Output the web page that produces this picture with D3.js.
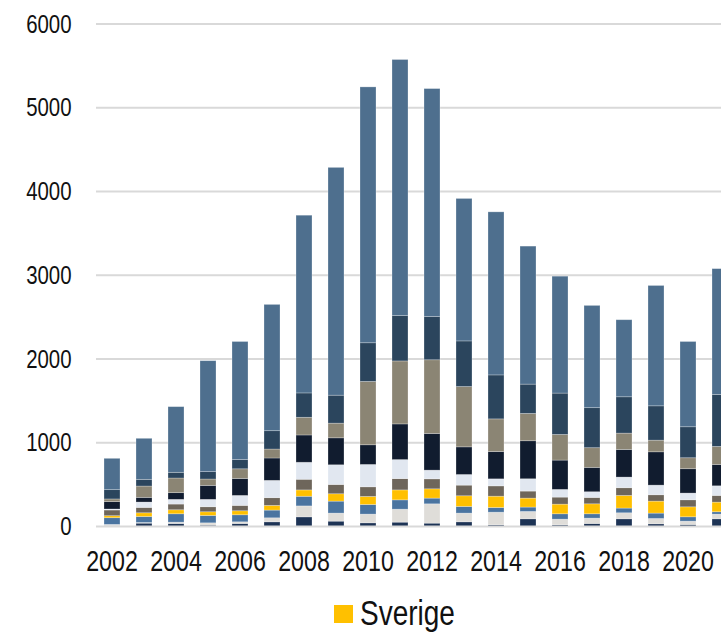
<!DOCTYPE html>
<html>
<head>
<meta charset="utf-8">
<script src="https://cdn.jsdelivr.net/npm/d3@7/dist/d3.min.js"></script>
<style>
  html, body { margin: 0; padding: 0; background: #fff; overflow: hidden; }
  svg text { font-family: "Liberation Sans", Arial, sans-serif; fill: #111; }
</style>
</head>
<body>
<svg id="chart" width="721" height="642"></svg>
<script>
// ---- Data ----
const years = [2002,2003,2004,2005,2006,2007,2008,2009,2010,2011,2012,2013,2014,2015,2016,2017,2018,2019,2020,2021];
const seriesNames = ["Serie 1","Serie 2","Serie 3","Sverige","Serie 5","Serie 6","Serie 7","Serie 8","Serie 9","Serie 10"];
const serie1  = [10, 40, 36, 16, 36, 56, 115, 64, 44, 52, 40, 56, 20, 92, 20, 36, 92, 32, 24, 92];
const serie2  = [15, 8, 16, 28, 20, 48, 131, 96, 104, 155, 231, 104, 151, 88, 68, 64, 72, 64, 40, 56];
const serie3  = [80, 72, 100, 88, 84, 92, 115, 143, 115, 111, 68, 80, 56, 52, 64, 52, 56, 64, 52, 28];
const sverige = [24, 44, 48, 44, 48, 56, 76, 88, 96, 119, 111, 127, 135, 107, 115, 119, 151, 143, 119, 115];
const serie5  = [68, 64, 68, 60, 64, 92, 127, 111, 115, 135, 119, 127, 123, 84, 84, 76, 92, 76, 84, 80];
const serie6  = [12, 64, 56, 88, 119, 207, 203, 235, 267, 227, 104, 127, 84, 147, 92, 68, 127, 115, 80, 115];
const serie7  = [88, 56, 80, 167, 203, 267, 326, 322, 235, 426, 438, 330, 326, 454, 350, 291, 330, 398, 291, 255];
const serie8  = [32, 135, 175, 76, 115, 107, 211, 175, 756, 752, 880, 720, 390, 326, 306, 235, 195, 139, 131, 215];
const serie9  = [111, 80, 68, 88, 111, 219, 291, 334, 462, 541, 517, 545, 525, 350, 494, 478, 434, 410, 370, 621];
const serie10 = [374, 490, 784, 1325, 1409, 1508, 2122, 2720, 3055, 3058, 2721, 1701, 1947, 1648, 1396, 1221, 920, 1437, 1018, 1502];
const yTicks = [0, 1000, 2000, 3000, 4000, 5000, 6000];
const xTickLabels = [2002,2004,2006,2008,2010,2012,2014,2016,2018,2020];
const legendNames = ["Sverige"];

const colors = ["#1d3355","#dfddd9","#4a74a0","#ffc000","#6e665b","#e1e7f0","#111c2f","#8b8574","#2b455d","#4e6f8e"];

// ---- Build table ----
const allSeries = [serie1, serie2, serie3, sverige, serie5, serie6, serie7, serie8, serie9, serie10];
const table = years.map((y, i) => {
  const row = { year: y };
  seriesNames.forEach((n, k) => row[n] = allSeries[k][i]);
  return row;
});
const stacked = d3.stack().keys(seriesNames)(table);

const NARROW = 0.8; // narrow-face horizontal compression

const svg = d3.select("#chart");
const x = d3.scaleBand().domain(years).range([96, 736]).paddingInner(0.5).paddingOuter(0.25);
const y = d3.scaleLinear().domain([0, 6000]).range([526.5, 24]);
const color = d3.scaleOrdinal().domain(seriesNames).range(colors);

// gridlines
svg.append("g").selectAll("line").data(yTicks.filter(t => t > 0)).join("line")
  .attr("x1", 96).attr("x2", 736)
  .attr("y1", d => y(d)).attr("y2", d => y(d))
  .attr("stroke", "#d9d9d9").attr("stroke-width", 2);

// y axis labels
const yAxis = d3.axisLeft(y).tickValues(yTicks).tickSize(0).tickPadding(0).tickFormat(d3.format("d"));
const gy = svg.append("g").attr("transform", "translate(71.5,0)").call(yAxis);
gy.select(".domain").remove();
gy.selectAll("text").attr("font-size", 25.5).attr("fill", "#111").attr("x", 0)
  .attr("transform", `scale(${NARROW},1)`)
  .style("font-family", '"Liberation Sans",Arial,sans-serif');

// bars
svg.append("g").selectAll("g").data(stacked).join("g")
  .attr("fill", d => color(d.key))
  .selectAll("rect").data(d => d).join("rect")
  .attr("x", d => x(d.data.year))
  .attr("width", x.bandwidth())
  .attr("y", d => y(d[1]))
  .attr("height", d => y(d[0]) - y(d[1]))
  .attr("stroke", "#ffffff").attr("stroke-opacity", 0.35).attr("stroke-width", 0.75);

// baseline
svg.append("line").attr("x1", 96).attr("x2", 736).attr("y1", y(0)).attr("y2", y(0))
  .attr("stroke", "#d9d9d9").attr("stroke-width", 2);

// x axis labels
const xAxis = d3.axisBottom(x).tickValues(xTickLabels).tickSize(0).tickPadding(0);
const gx = svg.append("g").attr("transform", `translate(0,${y(0)})`).call(xAxis);
gx.select(".domain").remove();
gx.selectAll("text").attr("font-size", 29).attr("dy", null).attr("y", 44.5).attr("fill", "#111")
  .attr("transform", `scale(${NARROW},1)`)
  .style("font-family", '"Liberation Sans",Arial,sans-serif');

// legend
const lg = svg.append("g").selectAll("g").data(legendNames).join("g");
lg.append("rect").attr("x", 334).attr("y", 605).attr("width", 19).attr("height", 18)
  .attr("fill", d => color(d));
lg.append("text").attr("x", 0).attr("y", 0).attr("font-size", 35)
  .attr("transform", `translate(360,625) scale(${NARROW},1)`).text(d => d);
</script>
</body>
</html>
